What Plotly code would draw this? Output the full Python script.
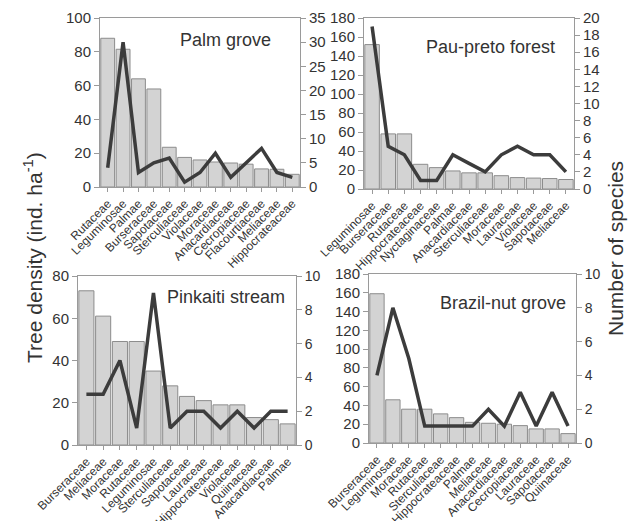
import plotly.graph_objects as go

# ---------------- data ----------------
palm_fam = ["Rutaceae", "Leguminosae", "Palmae", "Burseraceae", "Sapotaceae", "Sterculiaceae",
            "Violaceae", "Moraceae", "Anacardiaceae", "Cecropiaceae", "Flacourtiaceae",
            "Meliaceae", "Hippocrateaceae"]
palm_dens = [88, 81.5, 64, 58, 23.5, 17.5, 16, 14.8, 14.2, 13.5, 10.7, 10.5, 7.5]
palm_spp = [4, 30, 3, 5, 6, 1, 3, 7, 2, 5, 8, 3, 2]

pau_fam = ["Leguminosae", "Burseraceae", "Rutaceae", "Hippocrateaceae", "Nyctaginaceae", "Palmae",
           "Anacardiaceae", "Sterculiaceae", "Moraceae", "Lauraceae", "Violaceae",
           "Sapotaceae", "Meliaceae"]
pau_dens = [152, 58, 58, 26, 22.5, 19, 17, 17, 14, 12, 11.5, 11, 10]
pau_spp = [19, 5, 4, 1, 1, 4, 3, 2, 4, 5, 4, 4, 2]

pink_fam = ["Burseraceae", "Meliaceae", "Moraceae", "Rutaceae", "Leguminosae", "Sterculiaceae",
            "Sapotaceae", "Lauraceae", "Hippocrateaceae", "Violaceae", "Quiinaceae",
            "Anacardiaceae", "Palmae"]
pink_dens = [73, 61, 49, 49, 35, 28, 23, 21, 19, 19, 13, 12, 10]
pink_spp = [3, 3, 5, 1, 9, 1, 2, 2, 1, 2, 1, 2, 2]

braz_fam = ["Burseraceae", "Leguminosae", "Moraceae", "Rutaceae", "Sterculiaceae", "Hippocrateaceae",
            "Palmae", "Meliaceae", "Anacardiaceae", "Cecropiaceae", "Lauraceae",
            "Sapotaceae", "Quiinaceae"]
braz_dens = [159, 46, 36, 36, 31, 27, 22, 21, 20, 18.5, 15, 15, 10]
braz_spp = [4, 8, 5, 1, 1, 1, 1, 2, 1, 3, 1, 3, 1]

panels = [
    dict(name="Palm grove", fam=palm_fam, dens=palm_dens, spp=palm_spp,
         yl=[0, 100], dl=20, yr=[0, 35], dr=5),
    dict(name="Pau-preto forest", fam=pau_fam, dens=pau_dens, spp=pau_spp,
         yl=[0, 180], dl=20, yr=[0, 20], dr=2),
    dict(name="Pinkaiti stream", fam=pink_fam, dens=pink_dens, spp=pink_spp,
         yl=[0, 80], dl=20, yr=[0, 10], dr=2),
    dict(name="Brazil-nut grove", fam=braz_fam, dens=braz_dens, spp=braz_spp,
         yl=[0, 180], dl=20, yr=[0, 10], dr=2),
]

# ---------------- layout geometry (pixels in the window) ----------------
OFF = 8  # page body margin
W, H = 637 - 2 * OFF, 529 - 2 * OFF
boxes = [(100, 300, 18, 187), (364, 574, 18, 189), (78, 296, 276, 445), (369, 576, 274, 443)]
label_pos = [(225, 40), (490, 47), (226, 297), (503, 303)]


def px(x):
    return (x - OFF) / W


def py(y):
    return 1 - (y - OFF) / H


FONT = "Liberation Sans, Arial, sans-serif"
TXT = "#333333"
AX = "#9a9a9a"

fig = go.Figure()
layout = dict(
    width=W, height=H, autosize=False,
    margin=dict(l=0, r=0, t=0, b=0, pad=0, autoexpand=False),
    paper_bgcolor="white", plot_bgcolor="white",
    showlegend=False,
    font=dict(family=FONT, color=TXT),
    bargap=0.1,
    annotations=[],
)

for i, p in enumerate(panels):
    k = i + 1
    xa = f"x{k}" if k > 1 else "x"
    yl = 2 * i + 1
    yr = 2 * i + 2
    yla = f"y{yl}" if yl > 1 else "y"
    yra = f"y{yr}"
    x0, x1, ytop, ybot = boxes[i]
    xd = [px(x0), px(x1)]
    yd = [py(ybot), py(ytop)]

    fig.add_trace(go.Bar(x=p["fam"], y=p["dens"], xaxis=xa, yaxis=yla,
                         marker=dict(color="#d3d3d3", line=dict(color="#8c8c8c", width=1))))
    fig.add_trace(go.Scatter(x=p["fam"], y=p["spp"], xaxis=xa, yaxis=yra, mode="lines",
                             line=dict(color="#3c3c3c", width=3.5)))

    xkey = "xaxis" if k == 1 else f"xaxis{k}"
    ylkey = "yaxis" if yl == 1 else f"yaxis{yl}"
    yrkey = f"yaxis{yr}"
    layout[xkey] = dict(domain=xd, anchor=yla, type="category", tickangle=-45,
                        tickfont=dict(size=12, color=TXT), showline=True, linecolor=AX,
                        linewidth=1, mirror=True, ticks="outside", ticklen=4, tickcolor=AX,
                        showgrid=False, range=[-0.5, len(p["fam"]) - 0.5], automargin=False)
    layout[ylkey] = dict(domain=yd, anchor=xa, range=p["yl"], dtick=p["dl"],
                         tickfont=dict(size=15, color=TXT), showline=True, linecolor=AX,
                         linewidth=1, ticks="outside", ticklen=5, tickcolor=AX,
                         showgrid=False, zeroline=False, automargin=False)
    layout[yrkey] = dict(domain=yd, anchor=xa, overlaying=yla, side="right",
                         range=p["yr"], dtick=p["dr"],
                         tickfont=dict(size=15 if i < 2 else 14, color=TXT), showline=True,
                         linecolor=AX, linewidth=1, ticks="outside", ticklen=5, tickcolor=AX,
                         showgrid=False, zeroline=False, automargin=False)
    lx, ly = label_pos[i]
    layout["annotations"].append(dict(text=p["name"], x=px(lx), y=py(ly),
                                      xref="paper", yref="paper", showarrow=False,
                                      xanchor="center", yanchor="middle",
                                      font=dict(size=18, color=TXT, family=FONT)))

layout["annotations"].append(dict(text="Tree density (ind. ha<sup>-1</sup>)", x=px(33), y=py(258),
                                  xref="paper", yref="paper", showarrow=False, textangle=-90,
                                  xanchor="center", yanchor="middle",
                                  font=dict(size=21, color=TXT, family=FONT)))
layout["annotations"].append(dict(text="Number of species", x=px(615), y=py(249),
                                  xref="paper", yref="paper", showarrow=False, textangle=-90,
                                  xanchor="center", yanchor="middle",
                                  font=dict(size=21, color=TXT, family=FONT)))

fig.update_layout(**layout)
fig.write_html("out.html", config=dict(responsive=False))
